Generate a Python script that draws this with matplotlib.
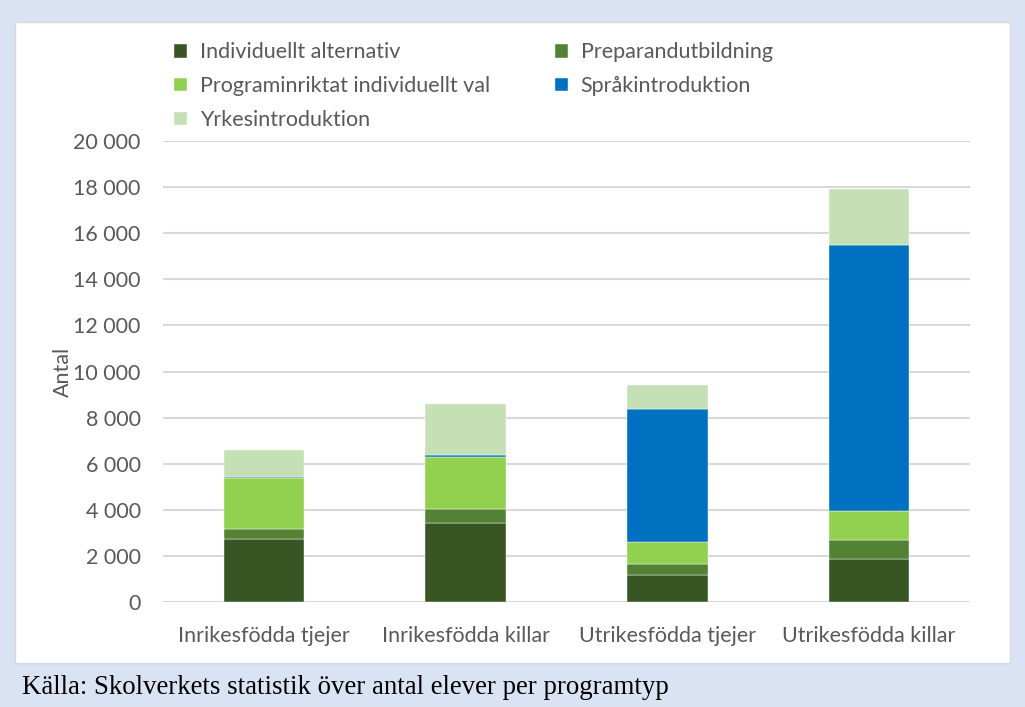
import numpy as np
import matplotlib.pyplot as plt
from matplotlib.patches import Rectangle
from matplotlib.ticker import FuncFormatter

# Data
kategorier = ['Inrikesfödda tjejer', 'Inrikesfödda killar', 'Utrikesfödda tjejer', 'Utrikesfödda killar']
individuellt = [2720, 3440, 1170, 1880]
preparand = [460, 580, 490, 810]
programinriktat = [2190, 2280, 940, 1270]
sprakintro = [50, 60, 5760, 11530]
yrkesintro = [1170, 2230, 1050, 2440]

serier = ['Individuellt alternativ', 'Preparandutbildning', 'Programinriktat individuellt val',
          'Språkintroduktion', 'Yrkesintroduktion']
farger = ['#375623', '#548235', '#92d050', '#0070c0', '#c5e0b4']

plt.rcParams['font.family'] = ['Lato', 'DejaVu Sans']

fig = plt.figure(figsize=(10.25, 7.07), dpi=100)
fig.patch.set_facecolor('#dae3f3')

# vit panel
panel = Rectangle((15 / 1025, 1 - 663 / 707), 995 / 1025, 641 / 707, transform=fig.transFigure,
                  facecolor='white', edgecolor='#d9d9d9', linewidth=1, zorder=-1)
fig.patches.append(panel)

ax = fig.add_axes([163 / 1025, 1 - 602 / 707, 807 / 1025, 461 / 707])
ax.set_facecolor('none')
ax.set_zorder(2)

x = np.arange(len(kategorier))
data = [individuellt, preparand, programinriktat, sprakintro, yrkesintro]
bottom = np.zeros(len(kategorier))
handles = []
for namn, varden, farg in zip(serier, data, farger):
    h = ax.bar(x, varden, 0.4, bottom=bottom, color=farg, label=namn,
               edgecolor='white', linewidth=0.3, zorder=3)
    handles.append(h)
    bottom += np.array(varden)

ax.set_xlim(-0.5, 3.5)
ax.set_ylim(0, 20000)
ax.set_yticks(np.arange(0, 20001, 2000))
ax.yaxis.set_major_formatter(FuncFormatter(lambda v, p: f'{int(v):,}'.replace(',', ' ')))
ax.set_xticks(x)
ax.set_xticklabels(kategorier)
ax.grid(axis='y', color='#d9d9d9', linewidth=1.5, zorder=0)
for s in ax.spines.values():
    s.set_visible(False)
ax.tick_params(length=0, labelsize=15.5, colors='#595959')
ax.tick_params(axis='y', pad=16)
ax.tick_params(axis='x', pad=17)
ax.set_ylabel('Antal', fontsize=15.5, color='#595959')
ax.yaxis.set_label_coords((73 - 163) / 807, 0.5)

# legend, radvis ordning
ordning = [0, 2, 4, 1, 3]
leg = fig.legend([handles[i] for i in ordning], [serier[i] for i in ordning], ncol=2,
                 loc='upper left', bbox_to_anchor=(155 / 1025, 1 - 23 / 707), frameon=False,
                 fontsize=15.5, handlelength=0.6, handleheight=0.6, handletextpad=0.6,
                 columnspacing=3.0, labelspacing=0.64, labelcolor='#595959')
leg.set_zorder(3)

fig.text(22 / 1025, 1 - 688 / 707, 'Källa: Skolverkets statistik över antal elever per programtyp',
         fontsize=19.4, family='Liberation Serif', va='center', ha='left', color='black')

fig.savefig('out.png', dpi=100, facecolor=fig.get_facecolor())
